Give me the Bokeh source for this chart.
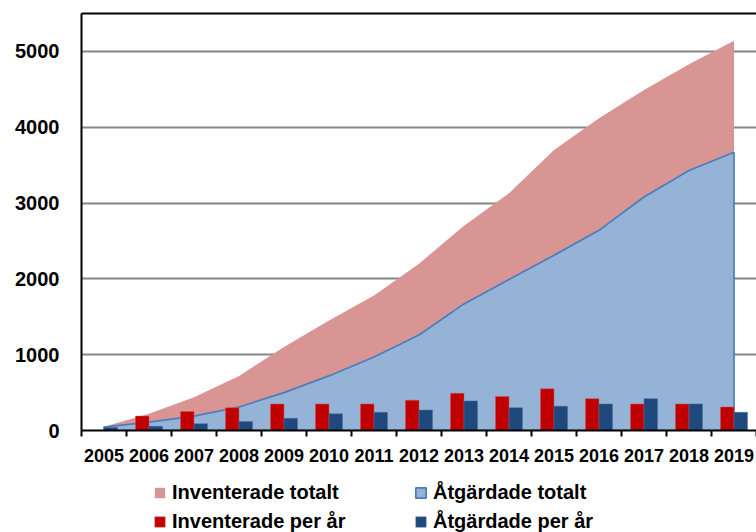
from bokeh.plotting import figure
from bokeh.layouts import column
from bokeh.models import (FixedTicker, Legend, LegendItem, LinearAxis, Range1d,
                          ColumnDataSource)
from bokeh.transform import dodge
from bokeh.embed import file_html
from bokeh.resources import INLINE

years = [2005, 2006, 2007, 2008, 2009, 2010, 2011, 2012, 2013, 2014, 2015, 2016, 2017, 2018, 2019]
inventerade_totalt = [50, 220, 440, 720, 1100, 1450, 1780, 2200, 2700, 3130, 3700, 4120, 4490, 4830, 5140]
atgardade_totalt = [45, 110, 190, 310, 500, 720, 970, 1260, 1670, 1990, 2310, 2640, 3080, 3430, 3670]
inventerade_per_ar = [0, 190, 250, 300, 350, 350, 350, 400, 490, 450, 550, 420, 350, 350, 310]
atgardade_per_ar = [40, 55, 90, 120, 160, 220, 240, 270, 390, 300, 320, 350, 420, 350, 240]
y_ticks = [0, 1000, 2000, 3000, 4000, 5000]

FONT = "Liberation Sans"
C_INV_TOT = "#D99594"
C_ATG_TOT = "#95B3D7"
C_ATG_LINE = "#4A7EBB"
C_INV_YR = "#C00000"
C_ATG_YR = "#1F497D"

src = ColumnDataSource(dict(year=years, inv_tot=inventerade_totalt, atg_tot=atgardade_totalt,
                            inv_yr=inventerade_per_ar, atg_yr=atgardade_per_ar,
                            zero=[0] * len(years)))
patch_x = years + [years[-1], years[0]]
patch_y = atgardade_totalt + [0, 0]

p = figure(width=756, height=470, x_range=Range1d(years[0] - 0.5, years[-1] + 0.5),
           y_range=Range1d(0, 5500), output_backend="svg", toolbar_location=None,
           min_border_left=81, min_border_right=0, min_border_top=13, min_border_bottom=40)
p.outline_line_color = None
p.background_fill_color = "white"


def draw_series(fig, x_range):
    r1 = fig.varea(x="year", y1="zero", y2="inv_tot", source=src, fill_color=C_INV_TOT)
    r2 = fig.patch(patch_x, patch_y, fill_color=C_ATG_TOT, line_color=C_ATG_LINE, line_width=1.7)
    r3 = fig.vbar(x=dodge("year", -0.15, range=x_range), top="inv_yr", width=0.3, source=src,
                  fill_color=C_INV_YR, line_color="#D05050", line_width=0.5)
    r4 = fig.vbar(x=dodge("year", 0.15, range=x_range), top="atg_yr", width=0.3, source=src,
                  fill_color=C_ATG_YR, line_color="#4A6FA0", line_width=0.5)
    return r1, r2, r3, r4


draw_series(p, p.x_range)

# axes
xa = p.xaxis[0]
xa.ticker = FixedTicker(ticks=years, minor_ticks=[y - 0.5 for y in years] + [years[-1] + 0.5])
xa.major_tick_out = 0
xa.major_tick_in = 0
xa.minor_tick_out = 6
xa.minor_tick_in = 0
xa.minor_tick_line_color = "black"
xa.minor_tick_line_width = 2
xa.axis_line_color = "black"
xa.axis_line_width = 2
xa.major_label_text_font = FONT
xa.major_label_text_font_style = "bold"
xa.major_label_text_font_size = "18px"
xa.major_label_text_color = "black"
xa.major_label_standoff = 12

ya = p.yaxis[0]
ya.ticker = FixedTicker(ticks=y_ticks)
ya.major_tick_out = 0
ya.major_tick_in = 0
ya.minor_tick_out = 0
ya.minor_tick_in = 0
ya.axis_line_color = "black"
ya.axis_line_width = 2
ya.major_label_text_font = FONT
ya.major_label_text_font_style = "bold"
ya.major_label_text_font_size = "20px"
ya.major_label_text_color = "black"
ya.major_label_standoff = 22

top_axis = LinearAxis(ticker=FixedTicker(ticks=[]), axis_line_color="black", axis_line_width=2,
                      major_label_text_font_size="0px", major_tick_out=0, major_tick_in=0,
                      minor_tick_out=0, minor_tick_in=0)
p.add_layout(top_axis, "above")

p.xgrid.grid_line_color = None
p.ygrid.grid_line_color = "#868686"
p.ygrid.grid_line_width = 2

# legend strip below the chart (its series lie outside its visible range; only legend shows)
lf = figure(width=756, height=62, output_backend="svg", toolbar_location=None,
            x_axis_type=None, y_axis_type=None, min_border=0,
            x_range=Range1d(0, 1), y_range=Range1d(0, 1))
lf.outline_line_color = None
lf.grid.grid_line_color = None
d_inv_tot, d_atg_tot, d_inv_yr, d_atg_yr = draw_series(lf, lf.x_range)


def make_legend(items, loc):
    lg = Legend(items=items, location=loc, orientation="vertical")
    lg.label_text_font = FONT
    lg.label_text_font_style = "bold"
    lg.label_text_font_size = "20px"
    lg.label_text_color = "black"
    lg.glyph_width = 13
    lg.glyph_height = 13
    lg.label_standoff = 6
    lg.label_height = 20
    lg.spacing = 6
    lg.padding = 0
    lg.margin = 0
    lg.border_line_color = None
    lg.background_fill_alpha = 0
    return lg


leg1 = make_legend([LegendItem(label="Inventerade totalt", renderers=[d_inv_tot]),
                    LegendItem(label="Inventerade per år", renderers=[d_inv_yr])], (72, -1))
leg2 = make_legend([LegendItem(label="Åtgärdade totalt", renderers=[d_atg_tot]),
                    LegendItem(label="Åtgärdade per år", renderers=[d_atg_yr])], (333, -1))
lf.add_layout(leg1)
lf.add_layout(leg2)

layout = column(p, lf, spacing=0)
open("out.html", "w").write(file_html(layout, INLINE))
